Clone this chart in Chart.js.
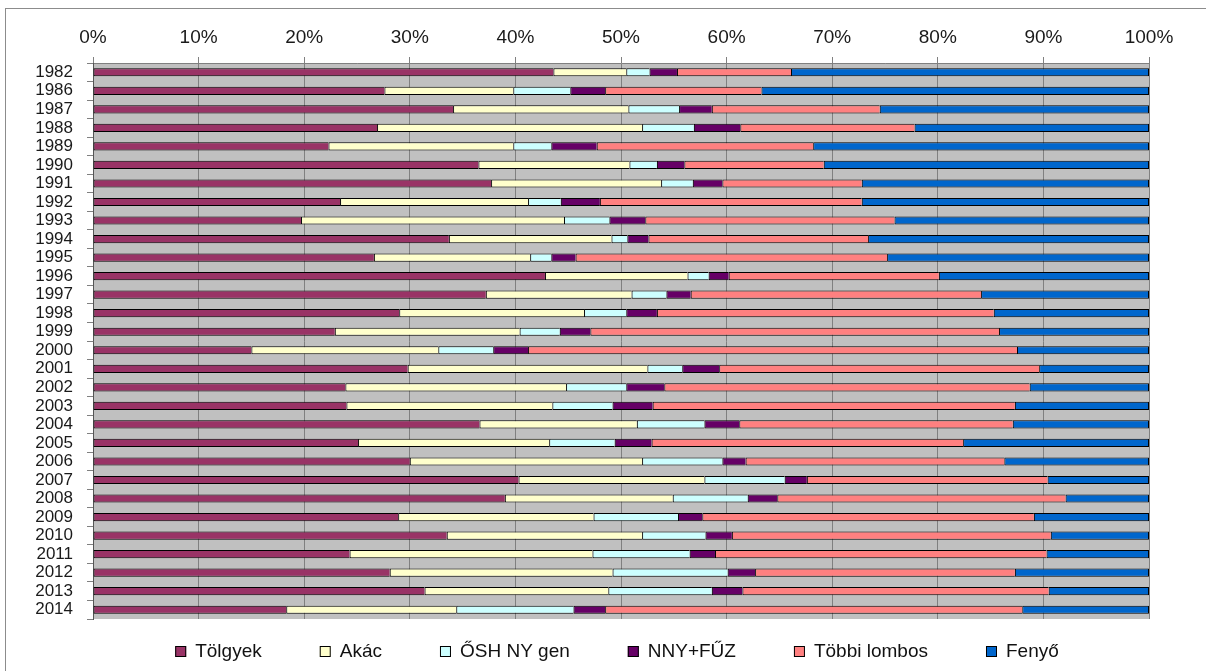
<!DOCTYPE html>
<html>
<head>
<meta charset="utf-8">
<title>Fafajok aránya</title>
<script src="https://cdn.jsdelivr.net/npm/chart.js@4/dist/chart.umd.min.js"></script>
<style>
	html, body { margin: 0; padding: 0; background: #fff; }
	#wrap { position: absolute; left: 0; top: 0; width: 1206px; height: 671px; }
	#frame { position: absolute; left: 5px; top: 8px; width: 1300px; height: 700px; border-left: 1px solid #8c8c8c; border-top: 1px solid #8c8c8c; }
	canvas { position: absolute; left: 0; top: 0; }
</style>
</head>
<body>
<div id="wrap">
	<div id="frame"></div>
	<canvas id="chart" width="1206" height="671"></canvas>
</div>
<script>
const years = ['1982', '1986', '1987', '1988', '1989', '1990', '1991', '1992', '1993', '1994',
	'1995', '1996', '1997', '1998', '1999', '2000', '2001', '2002', '2003', '2004',
	'2005', '2006', '2007', '2008', '2009', '2010', '2011', '2012', '2013', '2014'];

const seriesNames = ['Tölgyek', 'Akác', 'ŐSH NY gen', 'NNY+FŰZ', 'Többi lombos', 'Fenyő'];
const seriesColors = ['#993366', '#FFFFCC', '#CCFFFF', '#660066', '#FF8080', '#0066CC'];

// share of each group per year, %
const tolgyek = [43.6, 27.6, 34.1, 26.9, 22.3, 36.5, 37.7, 23.4, 19.7, 33.7,
	26.6, 42.8, 37.2, 29.0, 22.9, 15.0, 29.8, 23.9, 24.0, 36.6,
	25.1, 30.0, 40.3, 39.0, 28.9, 33.5, 24.3, 28.1, 31.4, 18.3];
const akac = [6.9, 12.2, 16.6, 25.1, 17.5, 14.3, 16.1, 17.8, 24.9, 15.4,
	14.8, 13.5, 13.8, 17.5, 17.5, 17.7, 22.7, 20.9, 19.5, 14.9,
	18.1, 22.0, 17.6, 15.9, 18.5, 18.5, 23.0, 21.1, 17.4, 16.1];
const osh = [2.2, 5.4, 4.8, 4.9, 3.6, 2.6, 3.0, 3.1, 4.3, 1.5,
	2.0, 2.0, 3.3, 4.0, 3.8, 5.2, 3.3, 5.7, 5.7, 6.4,
	6.2, 7.6, 7.6, 7.1, 8.0, 6.0, 9.2, 10.9, 9.8, 11.1];
const nnyFuz = [2.6, 3.3, 3.1, 4.4, 4.3, 2.6, 2.8, 3.7, 3.4, 2.0,
	2.3, 1.9, 2.3, 2.9, 2.9, 3.3, 3.5, 3.6, 3.8, 3.3,
	3.5, 2.2, 2.1, 2.8, 2.3, 2.5, 2.4, 2.6, 2.9, 3.0];
const tobbiLombos = [10.8, 14.8, 15.9, 16.5, 20.5, 13.2, 13.2, 24.8, 23.6, 20.8,
	29.5, 19.9, 27.5, 31.9, 38.7, 46.3, 30.3, 34.6, 34.3, 25.9,
	29.5, 24.5, 22.8, 27.3, 31.4, 30.2, 31.4, 24.6, 29.0, 39.5];
const fenyo = [33.9, 36.7, 25.5, 22.2, 31.8, 30.8, 27.2, 27.2, 24.1, 26.6,
	24.8, 19.9, 15.9, 14.7, 14.2, 12.5, 10.4, 11.3, 12.7, 12.9,
	17.6, 13.7, 9.6, 7.9, 10.9, 9.3, 9.7, 12.7, 9.5, 12.0];

const xTicks = [0, 10, 20, 30, 40, 50, 60, 70, 80, 90, 100];

const seriesData = [tolgyek, akac, osh, nnyFuz, tobbiLombos, fenyo];
const FONT = '"Liberation Sans", Arial, sans-serif';

const plotBackground = {
	id: 'plotBackground',
	beforeDraw(chart) {
		const { ctx, chartArea } = chart;
		ctx.save();
		ctx.fillStyle = '#C0C0C0';
		ctx.fillRect(chartArea.left, chartArea.top, chartArea.right - chartArea.left, chartArea.bottom - chartArea.top);
		ctx.restore();
	},
};

// Excel style legend under the plot, wide gaps between the entries
const bottomLegend = {
	id: 'bottomLegend',
	afterDraw(chart) {
		const ctx = chart.ctx;
		const box = 11;
		const gap = 9;
		const spacing = 58;
		const y = 652;
		ctx.save();
		ctx.font = '19px ' + FONT;
		ctx.textBaseline = 'middle';
		const items = chart.data.datasets.map((ds) => ({
			text: ds.label,
			color: ds.backgroundColor,
			width: box + gap + ctx.measureText(ds.label).width,
		}));
		const total = items.reduce((s, it) => s + it.width, 0) + spacing * (items.length - 1);
		let x = 617 - total / 2;
		items.forEach((it) => {
			ctx.fillStyle = it.color;
			ctx.fillRect(x, y - 6, box, box);
			ctx.strokeStyle = '#000';
			ctx.lineWidth = 1;
			ctx.strokeRect(x + 0.5, y - 5.5, box - 1, box - 1);
			ctx.fillStyle = '#111';
			ctx.fillText(it.text, x + box + gap, y);
			x += it.width + spacing;
		});
		ctx.restore();
	},
};

const config = {
	type: 'bar',
	data: {
		labels: years,
		datasets: seriesNames.map((name, i) => ({
			label: name,
			data: seriesData[i],
			backgroundColor: seriesColors[i],
			borderColor: '#000',
			borderWidth: i === seriesNames.length - 1 ? 1 : { top: 1, bottom: 1, left: 1, right: 0 },
			borderSkipped: false,
			barPercentage: 0.44,
			categoryPercentage: 1,
		})),
	},
	options: {
		indexAxis: 'y',
		responsive: false,
		animation: false,
		layout: { padding: { left: 0, right: 57, top: 0, bottom: 52 } },
		plugins: {
			legend: { display: false },
			tooltip: { enabled: false },
		},
		scales: {
			x: {
				position: 'top',
				stacked: true,
				min: 0,
				max: 100,
				afterBuildTicks(scale) {
					scale.ticks = xTicks.map((v) => ({ value: v }));
				},
				afterFit(scale) {
					scale.height = 63;
				},
				grid: { color: '#808080', lineWidth: 1, tickLength: 6 },
				border: { color: '#808080' },
				ticks: {
					padding: 8,
					color: '#1a1a1a',
					font: { family: FONT, size: 19 },
					callback: (v) => v + '%',
				},
			},
			y: {
				stacked: true,
				afterFit(scale) {
					scale.width = 93;
				},
				grid: { display: true, drawOnChartArea: false, color: '#808080', tickLength: 6 },
				border: { color: '#555' },
				ticks: {
					autoSkip: false,
					padding: 14,
					color: '#1a1a1a',
					font: { family: FONT, size: 17 },
				},
			},
		},
	},
	plugins: [plotBackground, bottomLegend],
};

function renderChart() {
	const chartCanvas = document.getElementById('chart');
	new Chart(chartCanvas, config);
}

renderChart();
</script>
</body>
</html>
